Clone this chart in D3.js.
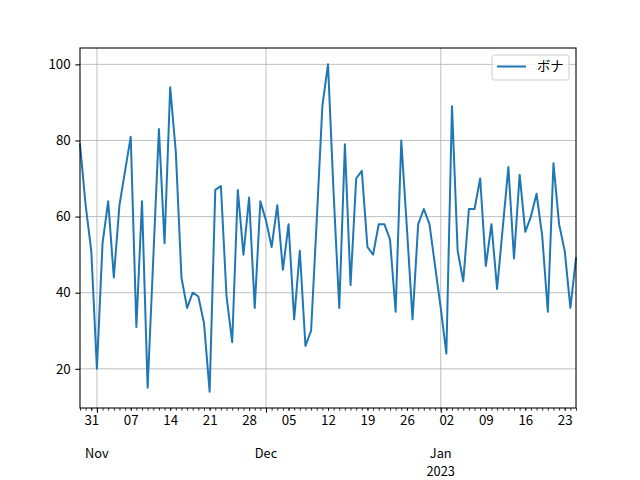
<!DOCTYPE html>
<html>
<head>
<meta charset="utf-8">
<script src="https://cdn.jsdelivr.net/npm/d3@7/dist/d3.min.js"></script>
<style>
  html, body { margin: 0; padding: 0; background: #ffffff; }
  svg { display: block; }
  text { font-family: "Noto Sans CJK JP", "Noto Sans", "DejaVu Sans", sans-serif; fill: #000; }
</style>
</head>
<body>
<svg id="chart" width="640" height="480"></svg>
<script>
// ---- data ----
const startDate = "2022-10-29";
const endDate = "2023-01-25";
const seriesName = "ボナ";
const values = [
  79, 63, 51, 20, 53, 64, 44, 63, 72, 81,
  31, 64, 15, 49, 83, 53, 94, 77, 44, 36,
  40, 39, 32, 14, 67, 68, 39, 27, 67, 50,
  65, 36, 64, 59, 52, 63, 46, 58, 33, 51,
  26, 30, 59, 89, 100, 66, 36, 79, 42, 70,
  72, 52, 50, 58, 58, 54, 35, 80, 57, 33,
  58, 62, 58, 47, 36, 24, 89, 51, 43, 62,
  62, 70, 47, 58, 41, 57, 73, 49, 71, 56,
  60, 66, 55, 35, 74, 58, 51, 36, 49
];
const yTicks = [20, 40, 60, 80, 100];

// ---- layout ----
const mLeft = 80, mRight = 576, mTop = 48, mBottom = 408;
const fontPx = 13.33;

const parse = d3.utcParse("%Y-%m-%d");
const t0 = parse(startDate), t1 = parse(endDate);
const dates = d3.utcDay.range(t0, d3.utcDay.offset(t1, 1));
const data = dates.map((d, i) => ({ date: d, value: values[i] }));

const x = d3.scaleUtc().domain([t0, t1]).range([mLeft, mRight]);
const vmin = d3.min(values), vmax = d3.max(values);
const pad = (vmax - vmin) * 0.05;
const y = d3.scaleLinear().domain([vmin - pad, vmax + pad]).range([mBottom, mTop]);

const svg = d3.select("#chart");

// grid
const monthTicks = d3.utcMonth.range(d3.utcMonth.ceil(t0), d3.utcDay.offset(t1, 1));
const grid = svg.append("g").attr("stroke", "#b0b0b0").attr("stroke-width", 0.8);
grid.selectAll("line.v").data(monthTicks).join("line").attr("class", "v")
  .attr("x1", d => x(d)).attr("x2", d => x(d))
  .attr("y1", mTop).attr("y2", mBottom);
grid.selectAll("line.h").data(yTicks).join("line").attr("class", "h")
  .attr("x1", mLeft).attr("x2", mRight)
  .attr("y1", d => y(d)).attr("y2", d => y(d));

// line
const line = d3.line().x(d => x(d.date)).y(d => y(d.value));
svg.append("path").datum(data)
  .attr("fill", "none")
  .attr("stroke", "#1f77b4")
  .attr("stroke-width", 2)
  .attr("stroke-linejoin", "round")
  .attr("stroke-linecap", "square")
  .attr("d", line);

// y axis
const yAxis = d3.axisLeft(y).tickValues(yTicks).tickSize(4.67).tickPadding(4.67);
const gy = svg.append("g").attr("transform", `translate(${mLeft},0)`).call(yAxis);
gy.select(".domain").remove();
gy.selectAll(".tick line").attr("stroke", "#000").attr("stroke-width", 1.07);
gy.selectAll(".tick text").attr("font-size", fontPx).attr("font-family", null).attr("fill", "#000");

// x axis: daily minor ticks
const dayAxis = d3.axisBottom(x).tickValues(dates).tickSize(2.67).tickFormat("");
const gd = svg.append("g").attr("transform", `translate(0,${mBottom})`).call(dayAxis);
gd.select(".domain").remove();
gd.selectAll(".tick line").attr("stroke", "#000").attr("stroke-width", 0.8);

// weekly labels
const weeks = d3.utcMonday.range(t0, d3.utcDay.offset(t1, 1));
const weekAxis = d3.axisBottom(x).tickValues(weeks).tickSize(2.67).tickPadding(4.67)
  .tickFormat(d3.utcFormat("%d"));
const gw = svg.append("g").attr("transform", `translate(0,${mBottom})`).call(weekAxis);
gw.select(".domain").remove();
gw.selectAll(".tick line").attr("stroke", "#000").attr("stroke-width", 0.8);
gw.selectAll(".tick text").attr("font-size", fontPx).attr("font-family", null).attr("fill", "#000");

// month major ticks and labels
const monthAxis = d3.axisBottom(x).tickValues(monthTicks).tickSize(4.67).tickFormat("");
const gm = svg.append("g").attr("transform", `translate(0,${mBottom})`).call(monthAxis);
gm.select(".domain").remove();
gm.selectAll(".tick line").attr("stroke", "#000").attr("stroke-width", 1.07);
const fmtMon = d3.utcFormat("%b");
const ml = svg.append("g").attr("font-size", 12.8).attr("text-anchor", "middle");
monthTicks.forEach((d) => {
  ml.append("text").attr("x", x(d)).attr("y", 457.5).text(fmtMon(d));
  if (d.getUTCMonth() === 0) {
    ml.append("text").attr("x", x(d)).attr("y", 475.5).text(d.getUTCFullYear());
  }
});

// frame
svg.append("rect").attr("x", mLeft).attr("y", mTop)
  .attr("width", mRight - mLeft).attr("height", mBottom - mTop)
  .attr("fill", "none").attr("stroke", "#000").attr("stroke-width", 1.07);

// legend
const lg = svg.append("g");
lg.append("rect").attr("x", 492).attr("y", 55).attr("width", 77).attr("height", 25)
  .attr("rx", 2.5).attr("fill", "#fff").attr("fill-opacity", 0.8)
  .attr("stroke", "#cccccc").attr("stroke-width", 1);
lg.append("line").attr("x1", 497).attr("x2", 526).attr("y1", 66.5).attr("y2", 66.5)
  .attr("stroke", "#1f77b4").attr("stroke-width", 2);
lg.append("text").attr("x", 537).attr("y", 71).attr("font-size", fontPx).text(seriesName);
</script>
</body>
</html>
